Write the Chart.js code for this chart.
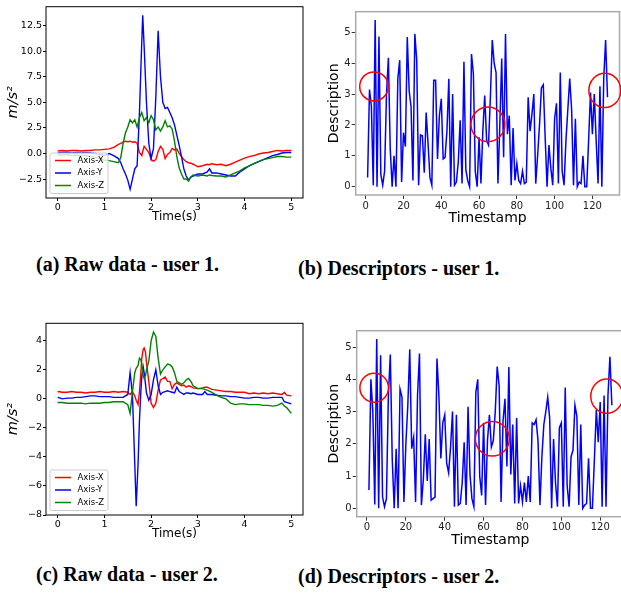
<!DOCTYPE html>
<html>
<head>
<meta charset="utf-8">
<script src="https://cdn.jsdelivr.net/npm/chart.js@4.4.1/dist/chart.umd.min.js"></script>
<style>
  html, body { margin: 0; padding: 0; background: #fff; width: 621px; height: 599px; overflow: hidden; }
  body { position: relative; }
  .panel { position: absolute; }
  .panel canvas { display: block; }
  .cap { position: absolute; font-family: "Liberation Serif", "Times New Roman", serif; font-weight: bold;
         font-size: 20px; line-height: 24px; color: #000; white-space: nowrap;
         transform: scaleY(1.08); transform-origin: left center; }
</style>
</head>
<body>
<div class="panel" style="left:0;top:0"><canvas id="rawA" width="310" height="230"></canvas></div>
<div class="panel" style="left:310px;top:0"><canvas id="descB" width="311" height="230"></canvas></div>
<div class="panel" style="left:0;top:310px"><canvas id="rawC" width="310" height="238"></canvas></div>
<div class="panel" style="left:310px;top:310px"><canvas id="descD" width="318" height="242"></canvas></div>

<div class="cap" style="left:36px;top:251px">(a) Raw data - user 1.</div>
<div class="cap" style="left:298px;top:255px">(b) Descriptors - user 1.</div>
<div class="cap" style="left:36px;top:561px">(c) Raw data - user 2.</div>
<div class="cap" style="left:298px;top:563px">(d) Descriptors - user 2.</div>

<script>
// ---- data: user 1 raw accelerometer (m/s^2) ----
const timeA = [0,0.1,0.2,0.3,0.4,0.5,0.6,0.7,0.8,0.9,1.0,1.1,1.2,1.3,1.35,1.4,1.45,1.5,1.55,1.6,1.65,1.7,1.75,1.8,1.82,
  1.85,1.9,1.95,2.0,2.05,2.1,2.15,2.2,2.25,2.3,2.35,2.4,2.45,2.5,2.55,2.6,2.65,2.7,2.75,2.8,2.85,2.9,
  3.0,3.1,3.2,3.25,3.3,3.4,3.5,3.6,3.7,3.8,3.9,4.0,4.1,4.2,4.3,4.4,4.5,4.6,4.7,4.8,4.9,5.0];
const axisXA = [0.25,0.3,0.25,0.3,0.3,0.25,0.3,0.3,0.35,0.35,0.4,0.45,0.6,0.9,1.0,1.1,1.2,1.15,1.2,1.1,1.15,1.0,0.1,-0.2,0.2,
  0.7,0.4,0.1,-0.6,-0.75,-0.6,0.2,0.7,0.4,-0.5,-0.1,0.1,0.5,0.35,0.45,0.0,-0.3,-0.6,-0.8,-0.9,-0.95,-1.05,
  -1.3,-1.2,-1.05,-1.1,-1.0,-1.1,-1.05,-1.2,-1.05,-0.85,-0.65,-0.45,-0.3,-0.2,-0.05,0.05,0.1,0.2,0.3,0.25,0.3,0.3];
const axisYA = [0.05,0.1,0.1,0.05,0.1,0.05,0.1,0.05,0.0,-0.1,-0.2,0.0,-0.2,-0.5,-0.9,-1.5,-2.0,-2.6,-3.5,-2.5,-1.5,-1.2,4.0,11.0,13.5,
  10.5,5.0,1.0,-0.5,0.5,5.5,12.0,7.5,5.0,4.4,4.5,4.0,3.5,2.8,1.8,0.8,-0.3,-1.5,-2.2,-2.6,-2.3,-2.2,
  -2.0,-2.0,-1.8,-1.5,-1.9,-1.9,-2.0,-2.1,-2.2,-2.2,-1.8,-1.5,-1.2,-1.0,-0.8,-0.6,-0.4,-0.2,-0.1,0.05,0.1,0.1];
const axisZA = [-0.1,-0.15,-0.1,-0.2,-0.15,-0.2,-0.2,-0.3,-0.35,-0.5,-0.65,-0.7,-0.8,-0.9,-0.4,1.0,2.0,2.6,3.3,3.0,3.3,2.6,3.5,4.0,3.7,
  3.2,3.5,3.0,3.7,3.3,2.3,2.6,2.2,2.6,3.2,2.6,2.7,2.4,1.2,-0.3,-1.4,-2.0,-2.5,-2.5,-2.7,-2.3,-2.1,
  -2.2,-2.1,-2.2,-2.1,-2.15,-2.2,-2.2,-2.3,-2.1,-1.9,-1.7,-1.4,-1.2,-1.0,-0.8,-0.6,-0.5,-0.4,-0.3,-0.3,-0.35,-0.35];

// ---- data: user 2 raw accelerometer (m/s^2) ----
const timeC = [0,0.1,0.2,0.3,0.4,0.5,0.6,0.7,0.8,0.9,1.0,1.1,1.2,1.3,1.4,1.5,
  1.55,1.6,1.65,1.68,1.72,1.75,1.78,1.8,1.83,1.85,1.88,1.9,1.95,2.0,2.05,2.1,2.15,2.2,2.25,2.3,
  2.35,2.4,2.45,2.5,2.55,2.6,2.65,2.7,2.75,2.8,2.85,2.9,3.0,3.1,3.15,3.2,3.3,3.4,3.5,3.6,
  3.7,3.8,3.9,4.0,4.1,4.2,4.3,4.4,4.5,4.6,4.7,4.8,4.85,4.9,5.0];
const axisXC = [0.5,0.45,0.45,0.5,0.45,0.45,0.4,0.45,0.45,0.5,0.45,0.45,0.5,0.45,0.5,0.45,
  0.3,0.5,0.2,-0.1,-0.4,0.5,1.8,2.8,3.4,3.5,3.2,2.5,1.2,-0.3,-0.6,-0.3,0.6,1.3,1.4,1.5,
  1.2,1.2,0.7,1.0,1.1,1.0,0.9,0.95,0.8,0.9,0.85,0.75,0.7,0.75,0.8,0.8,0.65,0.6,0.55,0.5,
  0.5,0.45,0.45,0.45,0.35,0.4,0.35,0.4,0.35,0.4,0.35,0.3,0.45,0.25,0.2];
const axisYC = [0.1,0.0,0.05,0.05,0.1,0.1,0.15,0.2,0.2,0.15,0.15,0.15,0.1,0.1,0.1,0.3,
  1.8,0.3,-4.5,-7.4,-4.5,-1.5,0.5,1.5,2.2,1.8,1.0,0.4,-0.1,0.3,1.3,2.0,0.9,0.3,0.45,0.5,
  0.55,0.5,0.45,0.4,0.8,0.5,0.4,0.3,0.4,0.4,0.35,0.4,0.3,0.3,0.5,0.3,0.3,0.25,0.2,0.2,
  0.15,0.15,0.1,0.05,0.05,0.1,0.1,0.05,0.05,0.1,0.1,0.1,-0.2,-0.25,-0.35];
const axisZC = [-0.25,-0.25,-0.3,-0.3,-0.3,-0.3,-0.35,-0.3,-0.3,-0.3,-0.25,-0.25,-0.2,-0.2,-0.2,-0.4,
  -1.0,0.5,1.8,2.1,2.3,2.8,2.7,2.4,1.6,1.4,1.6,2.0,2.6,4.0,4.6,4.3,2.8,1.7,2.0,2.2,
  2.4,2.35,2.2,1.8,1.2,1.1,1.0,1.1,1.3,1.4,1.2,0.9,0.7,0.7,0.65,0.6,0.45,0.25,0.1,0.0,
  -0.3,-0.4,-0.35,-0.35,-0.4,-0.4,-0.4,-0.45,-0.45,-0.5,-0.45,-0.3,-0.5,-0.6,-1.0];

// ---- data: descriptor sequences (value per timestamp, starting at 1) ----
const descUser1 = [0.3,3.15,2.6,0.05,5.4,0,4.87,0.4,0.05,0.5,
  3.0,4.18,1.2,0,1.0,0,3.5,4.1,0.15,1.75,
  1.3,4.85,3.1,2.6,0.2,4.95,4.1,0.05,1.68,1.65,
  0.45,2.4,1.4,0.3,0.05,3.45,3.45,0.9,2.3,2.85,
  0.9,0.95,1.8,3.5,0,3.0,0.05,0.15,0.8,2.15,
  0.1,4.05,0.55,0.2,0,4.3,3.65,0.5,0,1.6,
  0.1,1.8,2.95,1.5,1.35,2.9,4.75,4.0,3.7,0.1,
  2.0,4.15,0.95,4.95,1.7,2.3,0.05,1.9,0.2,0.75,
  0.2,0.1,0.5,0.1,0.15,2.9,1.8,2.35,3.0,0.1,
  1.0,2.0,3.2,3.3,1.6,0,1.35,0.6,0.05,2.2,
  2.7,0.1,3.7,0.5,0.05,1.5,2.5,3.5,2.5,0.05,
  2.2,0,0.15,0.1,1.0,0,0,1.5,3.05,1.7,
  3.0,1.5,0.1,3.25,0,3.5,4.75,2.9];
const descUser2 = [0.57,4.0,3.0,0.12,5.25,0,4.75,0.35,0.05,0.3,
  3.5,4.77,1.5,0,1.85,0,3.7,3.45,0.2,2.0,
  3.2,4.93,1.85,2.2,0.2,3.5,4.8,0.1,0.9,2.3,
  0.85,2.15,0.25,0.3,0.35,4.65,3.5,1.55,2.65,2.9,
  1.4,1.1,1.9,3.0,0.05,2.9,0.1,0.15,0.8,2.05,
  0.1,3.15,1.05,0.3,0.05,3.6,4.0,1.0,0.4,2.65,
  0.1,2.1,2.9,1.9,2.1,3.0,4.4,3.8,0.2,2.7,
  3.4,1.3,4.38,1.05,2.6,0.15,2.8,0.15,0.7,0.2,
  0.8,0.2,1.0,0.2,2.65,2.6,2.75,2.1,0.1,1.6,
  2.6,3.0,3.45,2.8,0,2.15,0.8,0.05,2.5,2.65,
  0.05,3.75,0.7,0.05,1.6,1.8,3.2,2.85,0.1,2.6,
  0,0.1,0.15,1.55,0,0,1.5,3.05,2.05,3.3,
  0.05,3.5,0.05,3.5,4.7,3.2];

// red rings marked on the descriptor plots (timestamp, description)
const ringUser1X = [4.4, 64.7, 126.6];
const ringUser1Y = [3.25, 2.02, 3.12];
const ringUser2X = [3.7, 64.5, 123.4];
const ringUser2Y = [3.74, 2.16, 3.48];

// tick labels
const timeTicks = [0, 1, 2, 3, 4, 5];
const accTicksA = [-2.5, 0, 2.5, 5, 7.5, 10, 12.5];
const accTicksC = [-8, -6, -4, -2, 0, 2, 4];
const stampTicks = [0, 20, 40, 60, 80, 100, 120];
const descTicks = [0, 1, 2, 3, 4, 5];

Chart.defaults.font.family = '"DejaVu Sans", sans-serif';
Chart.defaults.color = '#000';

function toPoints(xs, ys) { return ys.map((y, i) => ({ x: xs[i], y: y })); }
function toStampPoints(ys) { return ys.map((y, i) => ({ x: i + 1, y: y })); }
function minusFmt(v, digits) {
  const s = Math.abs(v).toFixed(digits);
  return v < 0 ? '\u2212' + s : s;
}

// box around the plotting area (matplotlib spines)
const framePlugin = {
  id: 'frame',
  afterDatasetsDraw(chart, args, opts) {
    const { ctx, chartArea: a } = chart;
    ctx.save();
    ctx.strokeStyle = opts.color;
    ctx.lineWidth = opts.width;
    ctx.strokeRect(a.left, a.top, a.right - a.left, a.bottom - a.top);
    ctx.restore();
  }
};

// legend drawn inside the lower-left corner
const insetLegend = {
  id: 'insetLegend',
  afterDraw(chart, args, opts) {
    if (!opts.show) return;
    const { ctx, chartArea: a } = chart;
    const w = 58, h = 40.5;
    const x0 = a.left + 4, y0 = a.bottom - 4.5 - h;
    ctx.save();
    ctx.fillStyle = 'rgba(255,255,255,0.8)';
    ctx.strokeStyle = '#cccccc';
    ctx.lineWidth = 1;
    ctx.beginPath();
    ctx.roundRect(x0, y0, w, h, 2);
    ctx.fill();
    ctx.stroke();
    ctx.font = '8.5px "DejaVu Sans"';
    ctx.textBaseline = 'middle';
    chart.data.datasets.forEach((ds, k) => {
      const yy = y0 + 7.5 + k * 12.5;
      ctx.strokeStyle = ds.borderColor;
      ctx.lineWidth = 1.5;
      ctx.beginPath();
      ctx.moveTo(x0 + 5, yy);
      ctx.lineTo(x0 + 21, yy);
      ctx.stroke();
      ctx.fillStyle = '#000';
      ctx.fillText(ds.label, x0 + 27.5, yy);
    });
    ctx.restore();
  }
};

// red highlight rings, centred through the chart scales
const ringPlugin = {
  id: 'rings',
  afterDatasetsDraw(chart, args, opts) {
    if (!opts.xs) return;
    const { ctx } = chart;
    const sx = chart.scales.x, sy = chart.scales.y;
    ctx.save();
    ctx.strokeStyle = '#ff0000';
    ctx.lineWidth = 1.5;
    opts.xs.forEach((v, k) => {
      ctx.beginPath();
      ctx.ellipse(sx.getPixelForValue(v), sy.getPixelForValue(opts.ys[k]), opts.rx[k], opts.ry[k], 0, 0, Math.PI * 2);
      ctx.stroke();
    });
    ctx.restore();
  }
};

function rawChart(id, time, xs, ys, zs, yMin, yMax, yTicks, yDigits, pad, xAxisH, titlePad) {
  const line = (label, data, color, order) => ({
    label: label, data: toPoints(time, data), borderColor: color, borderWidth: 1.4,
    pointRadius: 0, tension: 0, fill: false, order: order
  });
  return new Chart(document.getElementById(id), {
    type: 'line',
    data: {
      datasets: [
        line('Axis-X', xs, '#ff0000', 3),
        line('Axis-Y', ys, '#0000ff', 2),
        line('Axis-Z', zs, '#008000', 1)
      ]
    },
    options: {
      responsive: false,
      animation: false,
      layout: { padding: pad },
      plugins: {
        legend: { display: false },
        tooltip: { enabled: false },
        frame: { color: '#000', width: 1 },
        insetLegend: { show: true },
        rings: {}
      },
      scales: {
        x: {
          type: 'linear', min: -0.25, max: 5.25,
          afterBuildTicks: s => { s.ticks = timeTicks.map(v => ({ value: v })); },
          afterFit: s => { s.height = xAxisH; },
          border: { display: false },
          grid: { drawOnChartArea: false, tickLength: 3, color: '#000' },
          ticks: { autoSkip: false, maxRotation: 0, padding: 1, font: { size: 9.5 }, color: '#000',
                   callback: v => String(v) },
          title: { display: true, text: 'Time(s)', font: { size: 12 }, color: '#000',
                   padding: { top: 0, bottom: titlePad } }
        },
        y: {
          type: 'linear', min: yMin, max: yMax,
          afterBuildTicks: s => { s.ticks = yTicks.map(v => ({ value: v })); },
          afterFit: s => { s.width = 46; },
          border: { display: false },
          grid: { drawOnChartArea: false, tickLength: 3, color: '#000' },
          ticks: { autoSkip: false, padding: 1, font: { size: 9.5 }, color: '#000',
                   callback: v => minusFmt(v, yDigits) },
          title: { display: true, text: 'm/s\u00b2', font: { size: 14.5, style: 'italic' }, color: '#000',
                   padding: { top: 4.6, bottom: 0 } }
        }
      }
    },
    plugins: [framePlugin, insetLegend, ringPlugin]
  });
}

function descChart(id, values, xMax, yMin, yMax, ringX, ringY, pad, yAxisW, xAxisH, titlePad) {
  return new Chart(document.getElementById(id), {
    type: 'line',
    data: {
      datasets: [{
        label: 'Description', data: toStampPoints(values), borderColor: '#0000ff', borderWidth: 1.5,
        pointRadius: 0, tension: 0, fill: false
      }]
    },
    options: {
      responsive: false,
      animation: false,
      layout: { padding: pad },
      plugins: {
        legend: { display: false },
        tooltip: { enabled: false },
        frame: { color: '#aaaaaa', width: 1.5 },
        insetLegend: { show: false },
        rings: { xs: ringX, ys: ringY, rx: [14.3, 17, 16], ry: [14.5, 17.3, 17.2] }
      },
      scales: {
        x: {
          type: 'linear', min: -5.3, max: xMax,
          afterBuildTicks: s => { s.ticks = stampTicks.map(v => ({ value: v })); },
          afterFit: s => { s.height = xAxisH; },
          border: { display: false },
          grid: { drawOnChartArea: false, tickLength: 4, color: '#333' },
          ticks: { autoSkip: false, maxRotation: 0, padding: 1, font: { size: 10 }, color: '#222',
                   callback: v => String(v) },
          title: { display: true, text: 'Timestamp', font: { size: 14 }, color: '#000',
                   padding: { top: 0, bottom: titlePad } }
        },
        y: {
          type: 'linear', min: yMin, max: yMax,
          afterBuildTicks: s => { s.ticks = descTicks.map(v => ({ value: v })); },
          afterFit: s => { s.width = yAxisW; },
          border: { display: false },
          grid: { drawOnChartArea: false, tickLength: 4, color: '#333' },
          ticks: { autoSkip: false, padding: 1, font: { size: 10 }, color: '#222',
                   callback: v => String(v) },
          title: { display: true, text: 'Description', font: { size: 14 }, color: '#000',
                   padding: { top: 15.9, bottom: 0 } }
        }
      }
    },
    plugins: [framePlugin, insetLegend, ringPlugin]
  });
}

rawChart('rawA', timeA, axisXA, axisYA, axisZA, -4.35, 14.35, accTicksA, 1,
  { left: 0, top: 5, right: 7, bottom: 0 }, 32, 6.1);
rawChart('rawC', timeC, axisXC, axisYC, axisZC, -8.0, 5.2, accTicksC, 0,
  { left: 0, top: 13.3, right: 7, bottom: 0 }, 33, 6.8);
descChart('descB', descUser1, 134.35, -0.27, 5.67, ringUser1X, ringUser1Y,
  { left: 0, top: 11.7, right: 1.5, bottom: 0 }, 45.7, 35, 3.3);
descChart('descD', descUser2, 132.25, -0.26, 5.51, ringUser2X, ringUser2Y,
  { left: 0, top: 20.7, right: 4, bottom: 0 }, 46.7, 35.3, 3.6);
</script>
</body>
</html>
